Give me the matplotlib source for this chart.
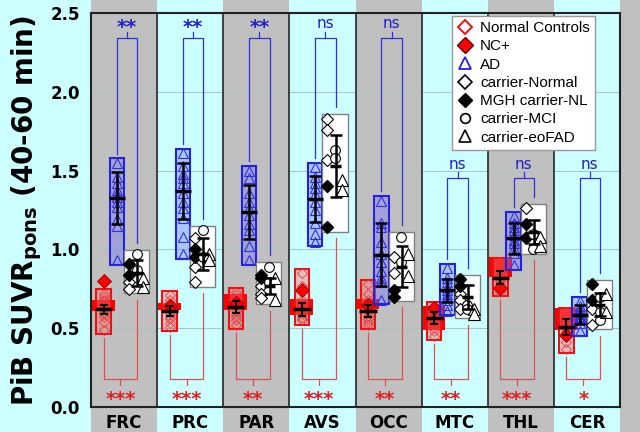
import matplotlib
matplotlib.use('Agg')
import matplotlib.pyplot as plt
from matplotlib.patches import Rectangle
from matplotlib.lines import Line2D

regions = ['FRC', 'PRC', 'PAR', 'AVS', 'OCC', 'MTC', 'THL', 'CER']

# normal controls (open red diamonds)
nc_pts = [
    [0.72, 0.70, 0.68, 0.67, 0.65, 0.63, 0.62, 0.60, 0.59, 0.57, 0.54, 0.49],
    [0.71, 0.68, 0.66, 0.64, 0.63, 0.62, 0.60, 0.59, 0.57, 0.56, 0.53, 0.51],
    [0.73, 0.71, 0.69, 0.67, 0.65, 0.64, 0.62, 0.61, 0.59, 0.57, 0.55, 0.52],
    [0.85, 0.77, 0.68, 0.66, 0.64, 0.62, 0.61, 0.60, 0.59, 0.57, 0.56, 0.55],
    [0.78, 0.72, 0.68, 0.65, 0.63, 0.62, 0.61, 0.60, 0.58, 0.56, 0.54, 0.52],
    [0.64, 0.61, 0.60, 0.58, 0.57, 0.56, 0.55, 0.54, 0.52, 0.50, 0.48, 0.45],
    [0.92, 0.90, 0.88, 0.86, 0.84, 0.83, 0.82, 0.81, 0.80, 0.78, 0.75, 0.73],
    [0.60, 0.58, 0.56, 0.55, 0.53, 0.52, 0.51, 0.50, 0.48, 0.45, 0.41, 0.37],
]
nc_plus = [0.80, 0.64, 0.66, 0.74, 0.65, 0.63, 0.755, 0.46]
nc_mean = [0.62, 0.61, 0.635, 0.62, 0.61, 0.565, 0.82, 0.51]
nc_sd = [0.03, 0.03, 0.04, 0.04, 0.04, 0.04, 0.04, 0.05]
nc_band_lo = [0.61, 0.615, 0.615, 0.585, 0.62, 0.49, 0.825, 0.49]
nc_band_hi = [0.68, 0.66, 0.72, 0.685, 0.685, 0.64, 0.95, 0.63]

# AD patients (open blue triangles)
ad_pts = [
    [1.55, 1.46, 1.42, 1.38, 1.35, 1.33, 1.30, 1.27, 1.19, 1.15, 0.93],
    [1.61, 1.53, 1.48, 1.45, 1.42, 1.36, 1.30, 1.26, 1.20, 1.08, 0.97],
    [1.50, 1.45, 1.36, 1.30, 1.26, 1.22, 1.16, 1.12, 1.02, 0.93],
    [1.52, 1.46, 1.42, 1.39, 1.35, 1.30, 1.25, 1.17, 1.10, 1.05],
    [1.31, 1.17, 1.14, 1.05, 0.97, 0.92, 0.86, 0.82, 0.79, 0.68],
    [0.88, 0.82, 0.79, 0.76, 0.74, 0.72, 0.70, 0.68, 0.65, 0.61],
    [1.21, 1.17, 1.14, 1.12, 1.09, 1.06, 1.04, 1.01, 0.98, 0.90],
    [0.67, 0.64, 0.62, 0.60, 0.59, 0.58, 0.57, 0.56, 0.53, 0.48],
]
ad_mean = [1.326, 1.37, 1.237, 1.32, 0.965, 0.74, 1.07, 0.585]
ad_sd = [0.165, 0.18, 0.17, 0.145, 0.20, 0.075, 0.10, 0.06]

# mutation carriers
car_normal = [[0.79, 0.75], [1.07, 0.89, 0.79], [0.77, 0.72, 0.69], [1.83, 1.76, 1.57],
              [0.95, 0.85], [0.72, 0.68, 0.62], [1.26, 1.08], [0.52, 0.62]]
car_mgh = [[0.91, 0.84], [1.00, 0.95], [0.84, 0.82], [1.40, 1.14],
           [0.74, 0.70], [0.81, 0.77], [1.16, 1.07], [0.78, 0.68]]
car_mci = [[0.97, 0.87], [1.12, 0.95], [0.89, 0.79], [1.63, 1.58],
           [1.08, 0.92], [0.65, 0.62], [1.10, 1.00], [0.70, 0.60, 0.55]]
car_fad = [[0.82, 0.76], [0.97, 0.93], [0.82, 0.68], [1.44, 1.38],
           [0.97, 0.83], [0.62, 0.59], [1.08, 1.02], [0.72, 0.60]]
car_mean = [0.85, 0.97, 0.77, 1.53, 0.89, 0.70, 1.11, 0.65]
car_sd = [0.08, 0.10, 0.05, 0.195, 0.13, 0.075, 0.075, 0.075]

top_bracket = [2.34, 2.34, 2.34, 2.34, 2.34, 1.45, 1.45, 1.45]
top_labels = ['**', '**', '**', 'ns', 'ns', 'ns', 'ns', 'ns']
bottom_bracket = [0.178] * 8
bottom_labels = ['***', '***', '**', '***', '**', '**', '***', '*']

CYAN = '#ccffff'
GRAY = '#c0c0c0'
RED = '#ee1111'
BLUE = '#2222dd'

fig = plt.figure(figsize=(6.4, 4.32), dpi=100, facecolor=CYAN)
ax = fig.add_axes([91 / 640, 25 / 432, 529 / 640, 394 / 432])
ax.set_xlim(0, 8)
ax.set_ylim(0, 2.5)
ax.patch.set_alpha(0)

# alternating column backgrounds, running over the whole figure height
for k in range(0, 10, 2):
    ax.add_patch(Rectangle((k, -1), 1, 5, facecolor=GRAY, edgecolor='none',
                           clip_on=False, zorder=0))
for yv in [0.5, 1.0, 1.5, 2.0]:
    ax.axhline(yv, color='#a8c4c4', lw=0.7, zorder=0.5)
for k in range(1, 8):
    ax.axvline(k, color='#333333', lw=1.3, zorder=1)

pad = 0.028
x_nc, x_ad, x_car = 0.19, 0.39, 0.69
w_nc, w_ad, w_car = 0.22, 0.22, 0.38

for i in range(len(regions)):
    # red band behind the controls
    ax.add_patch(Rectangle((i + 0.015, nc_band_lo[i]), 0.345, nc_band_hi[i] - nc_band_lo[i],
                           facecolor='#ff0000', edgecolor='none', zorder=2))
    # controls box
    lo, hi = min(nc_pts[i]) - pad, max(nc_pts[i]) + pad
    nc_lo, nc_hi = lo, hi
    ax.add_patch(Rectangle((i + x_nc - w_nc / 2, lo), w_nc, hi - lo,
                           facecolor=(1, 0.45, 0.45, 0.45), edgecolor=RED, lw=1.5, zorder=3))
    ax.plot([i + x_nc] * len(nc_pts[i]), nc_pts[i], ls='none', marker='D', ms=5,
            mfc='none', mec='#e83030', mew=0.7, alpha=0.8, zorder=3.5)
    ax.plot(i + x_nc, nc_plus[i], ls='none', marker='D', ms=7, mfc='#ff0000',
            mec='#880000', mew=0.6, zorder=3.6)
    ax.errorbar(i + x_nc, nc_mean[i], yerr=nc_sd[i], fmt='none', ecolor='k',
                elinewidth=1.5, capsize=3, capthick=1.5, zorder=8)
    ax.hlines(nc_mean[i], i + x_nc - 0.13, i + x_nc + 0.13, color='k', lw=2.5, zorder=8)

    # AD box
    lo, hi = min(ad_pts[i]) - pad, max(ad_pts[i]) + pad
    ad_hi = hi
    ax.add_patch(Rectangle((i + x_ad - w_ad / 2, lo), w_ad, hi - lo,
                           facecolor=(0.45, 0.45, 1.0, 0.4), edgecolor=BLUE, lw=1.5, zorder=4))
    ax.plot([i + x_ad] * len(ad_pts[i]), ad_pts[i], ls='none', marker='^', ms=6.5,
            mfc='none', mec='#3030dd', mew=0.8, zorder=4.5)
    ax.errorbar(i + x_ad, ad_mean[i], yerr=ad_sd[i], fmt='none', ecolor='k',
                elinewidth=1.8, capsize=4, capthick=1.8, zorder=8)
    ax.hlines(ad_mean[i], i + x_ad - 0.12, i + x_ad + 0.12, color='k', lw=2.5, zorder=8)

    # carriers box
    allc = car_normal[i] + car_mgh[i] + car_mci[i] + car_fad[i]
    lo, hi = min(allc) - pad, max(allc) + pad
    car_lo, car_hi = lo, hi
    ax.add_patch(Rectangle((i + x_car - w_car / 2, lo), w_car, hi - lo,
                           facecolor='white', edgecolor='#808080', lw=1.0, zorder=5))
    ax.plot([i + 0.575] * len(car_normal[i]), car_normal[i], ls='none', marker='D', ms=6.5,
            mfc='white', mec='k', mew=0.8, zorder=6)
    ax.plot([i + 0.575] * len(car_mgh[i]), car_mgh[i], ls='none', marker='D', ms=6.5,
            mfc='k', mec='k', zorder=6)
    ax.plot([i + 0.69] * len(car_mci[i]), car_mci[i], ls='none', marker='o', ms=7,
            mfc='white', mec='k', mew=0.8, zorder=6)
    ax.plot([i + 0.79] * len(car_fad[i]), car_fad[i], ls='none', marker='^', ms=8,
            mfc='white', mec='k', mew=0.8, zorder=6)
    ax.errorbar(i + 0.70, car_mean[i], yerr=car_sd[i], fmt='none', ecolor='k',
                elinewidth=1.8, capsize=4, capthick=1.8, zorder=8)
    ax.hlines(car_mean[i], i + 0.61, i + 0.78, color='k', lw=2.5, zorder=8)

    # significance brackets
    xa, xc, xn = i + x_ad, i + 0.70, i + x_nc
    t = top_bracket[i]
    ax.plot([xa, xa, xc, xc], [ad_hi + 0.03, t, t, car_hi + 0.045], color='#3030dd', lw=0.9, zorder=2)
    xm = (xa + xc) / 2
    ax.plot([xm, xm], [t, t + 0.04], color='#3030dd', lw=0.9, zorder=2)
    if top_labels[i] == 'ns':
        ax.text(xm, t + 0.062, 'ns', ha='center', va='baseline', color='#2020cc', fontsize=11)
    else:
        ax.text(xm, t + 0.035, top_labels[i], ha='center', va='baseline', color='#2020cc',
                fontsize=14, fontweight='bold')
    b = bottom_bracket[i]
    ax.plot([xn, xn, xc, xc], [nc_lo - 0.025, b, b, car_lo - 0.04], color='#e05050', lw=0.9, zorder=2)
    xm = (xn + xc) / 2
    ax.plot([xm, xm], [b, b - 0.04], color='#e05050', lw=0.9, zorder=2)
    ax.text(xm, b - 0.165, bottom_labels[i], ha='center', va='baseline', color='#e02020',
            fontsize=14, fontweight='bold')

ax.set_yticks([0, 0.5, 1.0, 1.5, 2.0, 2.5])
ax.set_yticklabels(['%.1f' % v for v in [0, 0.5, 1.0, 1.5, 2.0, 2.5]],
                   fontsize=12, fontweight='bold')
ax.set_xticks([i + 0.5 for i in range(len(regions))])
ax.set_xticklabels(regions, fontsize=12, fontweight='bold')
ax.tick_params(axis='y', length=0, pad=8)
ax.tick_params(axis='x', length=0, pad=5)
for s in ax.spines.values():
    s.set_color('#222222')
    s.set_linewidth(1.5)

ax.set_ylabel('PiB SUVR$_{\\mathbf{pons}}$ (40-60 min)', fontsize=20, fontweight='bold')
ax.yaxis.set_label_coords(-0.088, 0.5)

handles = [
    Line2D([], [], ls='none', marker='D', mfc='none', mec=RED, ms=7, mew=1.4, label='Normal Controls'),
    Line2D([], [], ls='none', marker='D', mfc='#ff0000', mec='#550000', ms=8, label='NC+'),
    Line2D([], [], ls='none', marker='^', mfc='none', mec=BLUE, ms=8, mew=1.3, label='AD'),
    Line2D([], [], ls='none', marker='D', mfc='white', mec='k', ms=7, mew=1.2, label='carrier-Normal'),
    Line2D([], [], ls='none', marker='D', mfc='k', mec='k', ms=7, label='MGH carrier-NL'),
    Line2D([], [], ls='none', marker='o', mfc='white', mec='k', ms=7, mew=1.2, label='carrier-MCI'),
    Line2D([], [], ls='none', marker='^', mfc='white', mec='k', ms=8, mew=1.2, label='carrier-eoFAD'),
]
leg = ax.legend(handles=handles, loc='upper left', bbox_to_anchor=(0.682, 0.993),
                frameon=True, fancybox=False, framealpha=1, edgecolor='#999999',
                prop={'family': 'Liberation Sans', 'size': 11}, handlelength=1.0,
                handletextpad=0.5, labelspacing=0.28, borderpad=0.35, borderaxespad=0)
leg.set_zorder(20)
leg.get_frame().set_linewidth(1.0)

fig.savefig('out.png', dpi=100, facecolor=CYAN)
